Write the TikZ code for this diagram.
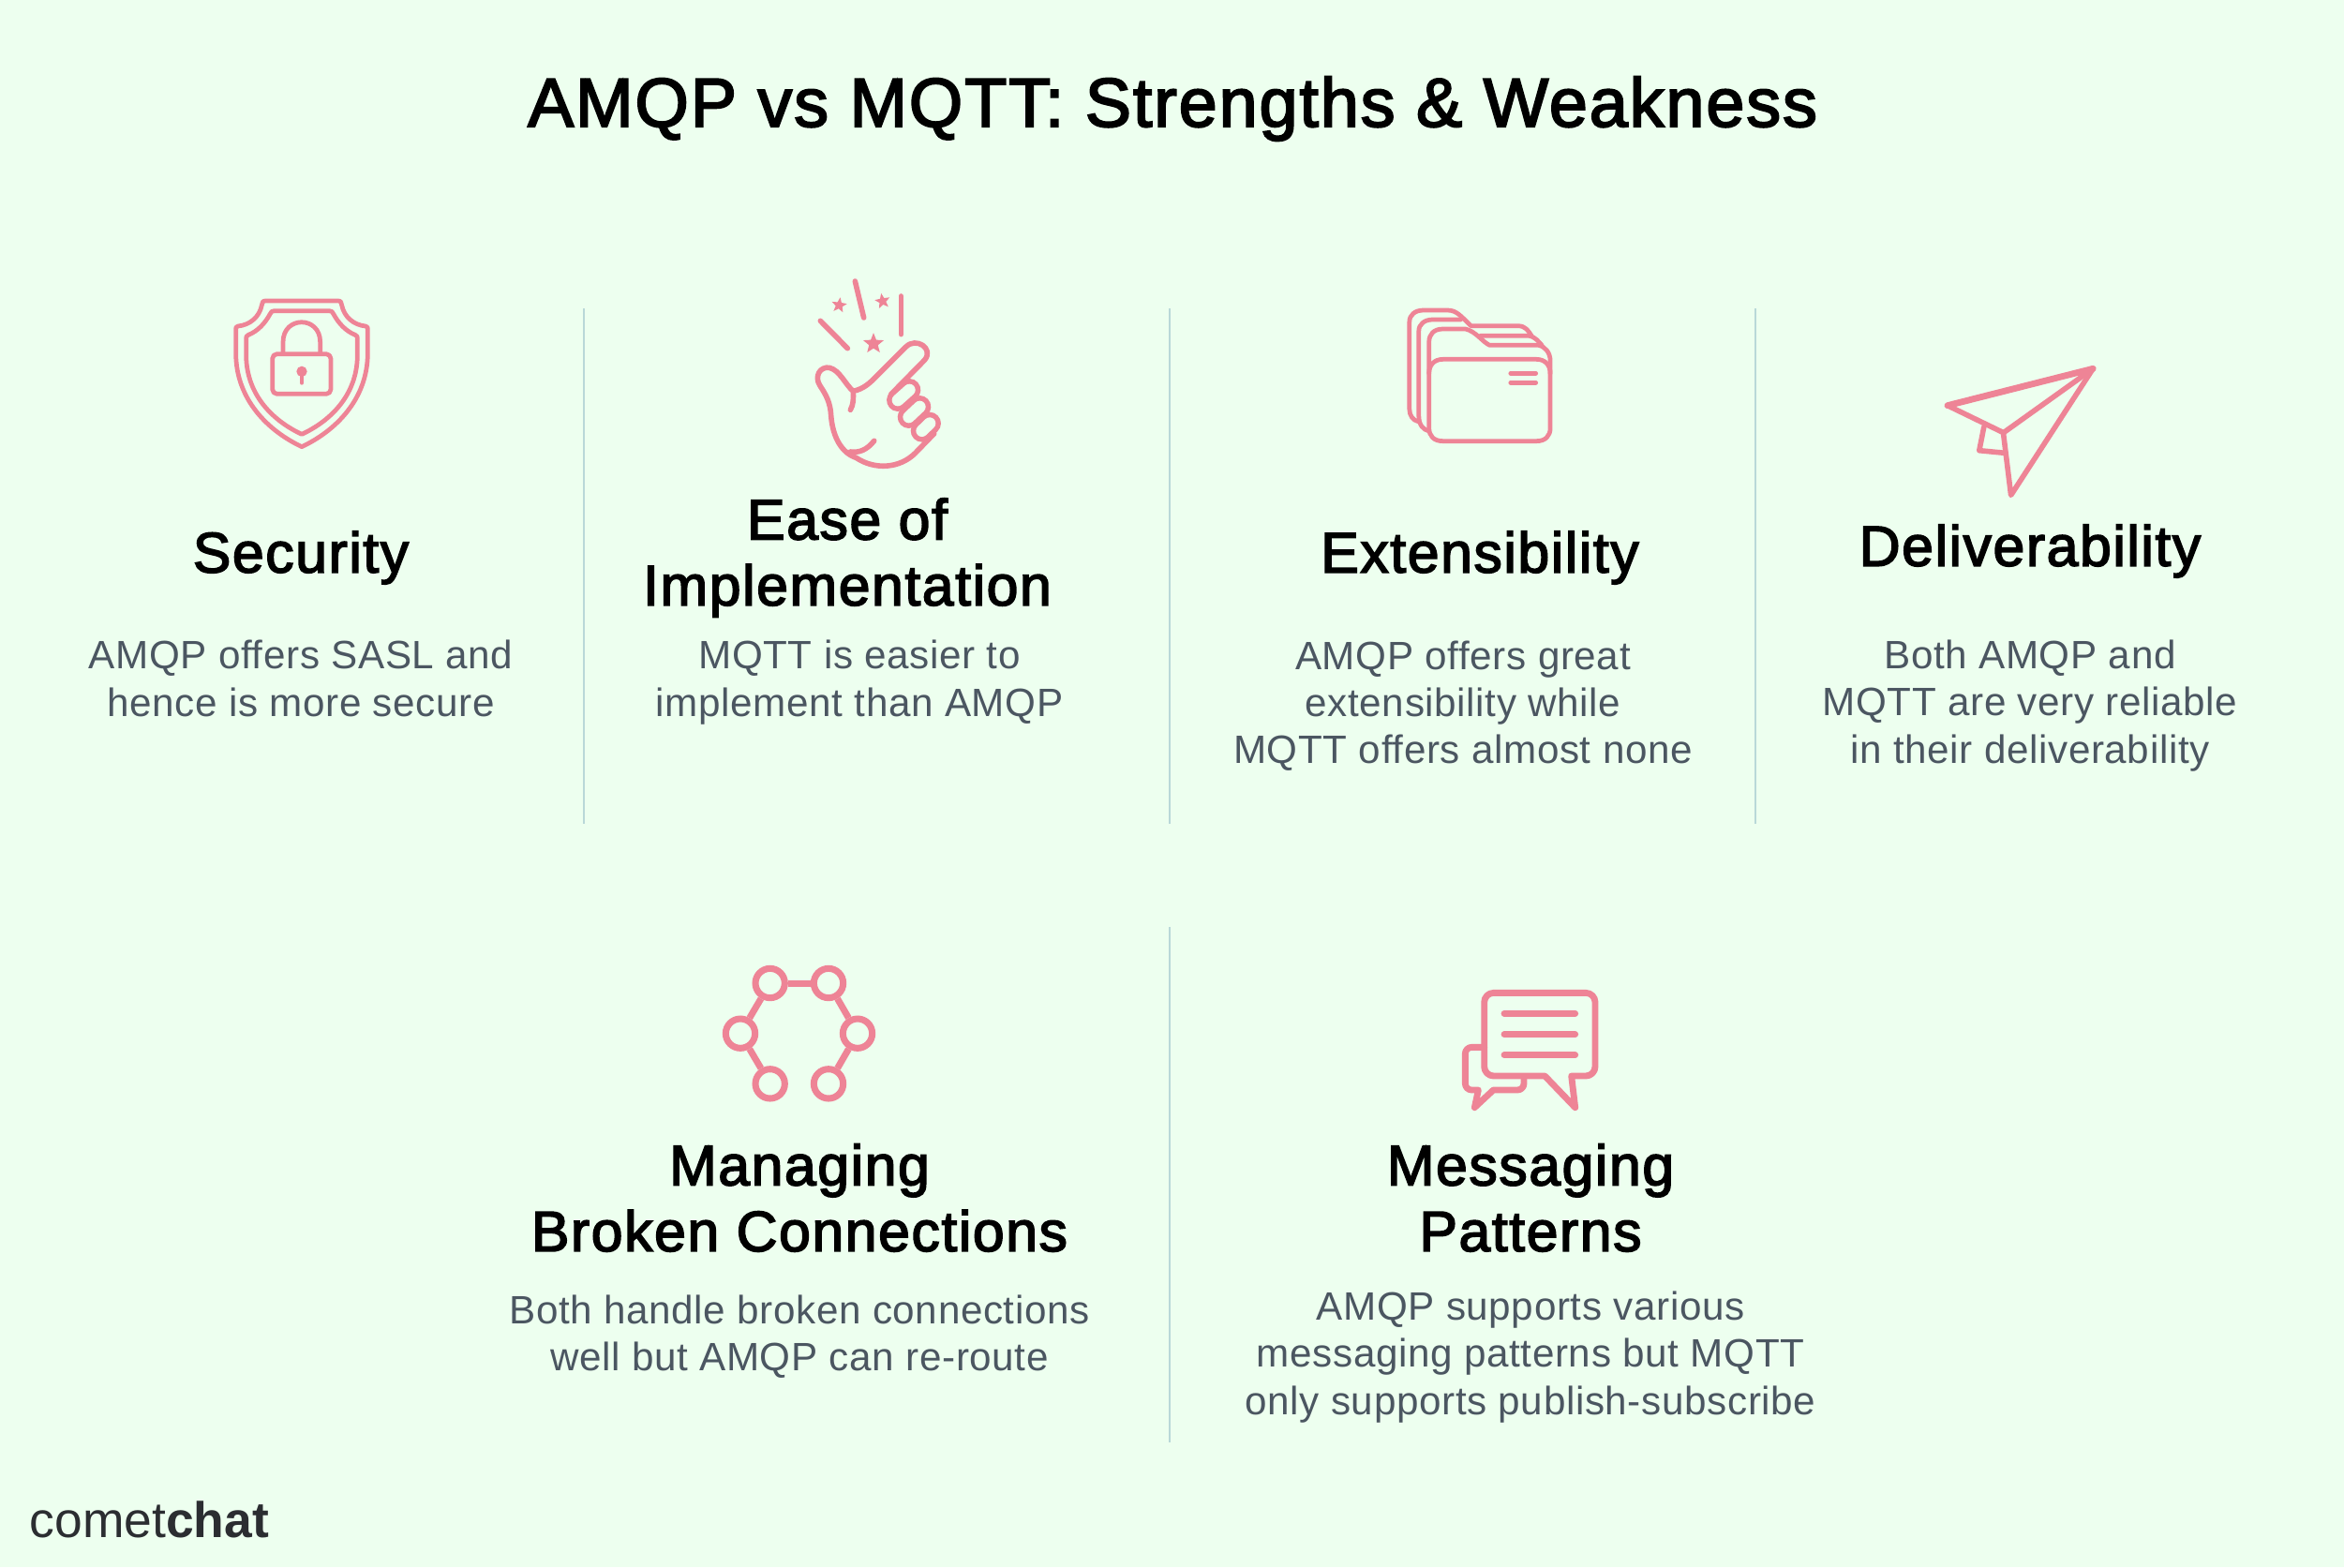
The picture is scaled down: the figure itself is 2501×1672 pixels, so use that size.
\documentclass[tikz,border=0pt]{standalone}
\usepackage{fontspec}
\setmainfont[LetterSpace=1.5]{Liberation Sans}
\newfontfamily\headfont[FakeBold=2.6, LetterSpace=2.5]{Liberation Sans}
\newfontfamily\logofont{Liberation Sans}
\usetikzlibrary{shapes.geometric}
\definecolor{mint}{HTML}{EDFFEF}
\definecolor{rose}{HTML}{EE8496}
\definecolor{rule}{HTML}{B9D8D8}
\definecolor{slate}{HTML}{4B5661}
\definecolor{coal}{HTML}{2B2D31}
\tikzset{
  x=0.01cm, y=-0.01cm,
  titletext/.style={font=\headfont\fontsize{21}{25}\selectfont, text=black, inner sep=0pt},
  headtext/.style={font=\headfont\fontsize{17.3}{20}\selectfont, text=black, align=center, inner sep=0pt},
  bodytext/.style={font=\fontsize{12}{14.3}\selectfont, text=slate, align=center, inner sep=0pt},
  divider/.style={draw=rule, line width=0.7pt},
  icon/.style={draw=rose, line width=1.6pt, line cap=round, line join=round},
  iconthin/.style={draw=rose, line width=1.35pt, line cap=round, line join=round},
  iconheavy/.style={draw=rose, line width=1.95pt, line cap=round, line join=round},
  knuckle/.style={draw=rose, line width=1.6pt, line cap=round, double=mint, double distance=3.6pt},
  spark/.style={star, star points=5, star point ratio=2.3, fill=rose, inner sep=0pt},
  hub/.style={circle, draw=rose, line width=2pt, minimum size=0.313cm, inner sep=0pt},
  link/.style={draw=rose, line width=2pt}
}
\begin{document}
\begin{tikzpicture}
  \fill[mint] (0,0) rectangle (2501,1672);
  \useasboundingbox (0,0) rectangle (2501,1672);

  % dividers
  \coordinate (ruleAtop) at (623,329);  \coordinate (ruleAbot) at (623,879);
  \coordinate (ruleBtop) at (1248,329); \coordinate (ruleBbot) at (1248,879);
  \coordinate (ruleCtop) at (1873,329); \coordinate (ruleCbot) at (1873,879);
  \coordinate (ruleDtop) at (1248,989); \coordinate (ruleDbot) at (1248,1539);
  \draw[divider] (ruleAtop) -- (ruleAbot);
  \draw[divider] (ruleBtop) -- (ruleBbot);
  \draw[divider] (ruleCtop) -- (ruleCbot);
  \draw[divider] (ruleDtop) -- (ruleDbot);

  % texts
  \node[titletext] (title) at (1251,116) {AMQP vs MQTT: Strengths \& Weakness};

  \node[headtext] (secHead) at (321,595) {Security};
  \node[bodytext] (secBody) at (321,724) {AMQP offers SASL and\\hence is more secure};

  \node[headtext] (easeHead) at (904,595) {Ease of\\Implementation};
  \node[bodytext] (easeBody) at (917,728) {MQTT is easier to\\implement than AMQP};

  \node[headtext] (extHead) at (1579,595) {Extensibility};
  \node[bodytext] (extBody) at (1561,753) {AMQP offers great\\extensibility while\\MQTT offers almost none};

  \node[headtext] (delHead) at (2166,588) {Deliverability};
  \node[bodytext] (delBody) at (2166,753) {Both AMQP and\\MQTT are very reliable\\in their deliverability};

  \node[headtext] (brokenHead) at (853,1278) {Managing\\Broken Connections};
  \node[bodytext] (brokenBody) at (853,1426) {Both handle broken connections\\well but AMQP can re-route};

  \node[headtext] (msgHead) at (1633,1278) {Messaging\\Patterns};
  \node[bodytext] (msgBody) at (1633,1448) {AMQP supports various\\messaging patterns but MQTT\\only supports publish-subscribe};

  \node[font=\logofont\fontsize{15.2}{18}\selectfont, text=coal, anchor=base west, inner sep=0pt] (logo) at (31,1640) {comet\textbf{chat}};

  % shield
  \begin{scope}[shift={(200,280)}, scale=1/3]
    \draw[iconthin] (366,123) -- (250,123) .. controls (240,123) and (240,128) .. (238,137)
      .. controls (230,175) and (200,200) .. (162,204) .. controls (155,205) and (155,208) .. (155,215)
      -- (155,290) .. controls (155,440) and (260,540) .. (366,590)
      .. controls (472,540) and (577,440) .. (577,290) -- (577,215)
      .. controls (577,208) and (577,205) .. (570,204) .. controls (532,200) and (502,175) .. (494,137)
      .. controls (492,128) and (492,123) .. (482,123) -- cycle;
    \draw[iconthin] (366,155) -- (278,155) .. controls (270,155) and (268,158) .. (264,166)
      .. controls (248,195) and (225,220) .. (195,232) .. controls (188,235) and (188,238) .. (188,245)
      -- (188,300) .. controls (190,430) and (280,510) .. (366,550)
      .. controls (452,510) and (542,430) .. (544,300) -- (544,245)
      .. controls (544,238) and (544,235) .. (537,232) .. controls (507,220) and (484,195) .. (468,166)
      .. controls (464,158) and (462,155) .. (454,155) -- cycle;
    \draw[iconthin, rounded corners=0.05cm] (272,293) rectangle (459,421);
    \draw[iconthin] (306,287) -- (306,255) .. controls (306,170) and (425,170) .. (425,255) -- (425,287);
    \fill[rose] (366,349) circle (17);
    \draw[iconthin] (366,349) -- (366,385);
  \end{scope}

  % hand
  \begin{scope}[shift={(820,280)}, scale=1/3]
    \draw[icon] (277,60) -- (305,177);
    \draw[icon] (166,187) -- (253,275);
    \draw[icon] (424,108) -- (424,230);
    \node[spark, minimum size=0.17cm, rotate=-8] (sparkA) at (226,137) {};
    \node[spark, minimum size=0.17cm, rotate=10] (sparkB) at (365,124) {};
    \node[spark, minimum size=0.23cm] (sparkC) at (336,260) {};
    \draw[icon] (262,472) .. controls (272,455) and (272,435) .. (271,412)
      .. controls (305,405) and (325,385) .. (345,365) -- (440,270)
      .. controls (472,238) and (530,275) .. (500,312) -- (392,422);
    \draw[icon] (271,412) .. controls (245,390) and (228,345) .. (195,337)
      .. controls (165,332) and (145,365) .. (165,395)
      .. controls (185,425) and (198,450) .. (200,490)
      .. controls (205,560) and (235,610) .. (280,625)
      .. controls (340,665) and (420,660) .. (470,610) -- (530,548);
    \draw[icon] (338,571) .. controls (315,600) and (290,610) .. (262,606);
    \draw[knuckle] (414,441) -- (451,408);
    \draw[knuckle] (449,495) -- (484,462);
    \draw[knuckle] (491,539) -- (516,515);
  \end{scope}

  % folders
  \begin{scope}[shift={(1470,310)}, xscale=1/2.01, yscale=1/3]
    \draw[iconthin] (88,420) .. controls (75,415) and (68,400) .. (68,380) -- (68,100)
      .. controls (68,78) and (80,63) .. (98,63) -- (150,63)
      .. controls (170,63) and (180,85) .. (200,113) -- (300,113)
      .. controls (318,113) and (323,130) .. (330,145);
    \draw[iconthin] (110,450) .. controls (97,445) and (88,430) .. (88,400) -- (88,130)
      .. controls (88,108) and (100,93) .. (118,93) -- (178,93);
    \draw[iconthin] (220,145) -- (325,145) .. controls (340,150) and (345,165) .. (352,175);
    \draw[iconthin] (110,440) -- (110,165) .. controls (110,140) and (120,123) .. (140,123) -- (188,123)
      .. controls (210,130) and (225,165) .. (240,175) -- (345,175)
      .. controls (360,180) and (370,200) .. (370,225) -- (370,440)
      .. controls (370,465) and (360,482) .. (340,482) -- (140,482)
      .. controls (120,482) and (110,465) .. (110,440) -- cycle;
    \draw[iconthin] (110,265) .. controls (110,240) and (120,220) .. (140,220) -- (340,220)
      .. controls (360,220) and (370,240) .. (370,265);
    \draw[iconthin] (285,265) -- (339,265);
    \draw[iconthin] (285,295) -- (339,295);
  \end{scope}

  % plane
  \begin{scope}[shift={(1470,310)}, xscale=1/2.01, yscale=1/3]
    \draw[icon] (1222,368) -- (1534,250) -- (1342,455) -- cycle;
    \draw[iconheavy] (1222,368) -- (1534,250);
    \draw[icon] (1534,250) -- (1358,655) -- (1342,460);
    \draw[icon] (1300,437) -- (1290,512) -- (1345,520);
  \end{scope}

  % network
  \begin{scope}[shift={(740,1010)}, scale=1/3]
    \node[hub] (hubA) at (245,117) {};
    \node[hub] (hubB) at (432,117) {};
    \node[hub] (hubC) at (525,278) {};
    \node[hub] (hubD) at (432,439) {};
    \node[hub] (hubE) at (245,439) {};
    \node[hub] (hubF) at (150,278) {};
    \draw[link] (hubA) -- (hubB);
    \draw[link] (hubB) -- (hubC);
    \draw[link] (hubC) -- (hubD);
    \draw[link] (hubA) -- (hubF);
    \draw[link] (hubF) -- (hubE);
  \end{scope}

  % chat bubbles
  \begin{scope}[shift={(1530,1040)}, scale=1/3]
    \draw[iconheavy] [rounded corners=0.1cm] (161,200) -- (161,58) -- (516,58) -- (516,324)
      [sharp corners] -- (440,324) -- (452,425) -- (355,324)
      [rounded corners=0.1cm] -- (161,324) -- cycle;
    \draw[iconheavy] [rounded corners=0.07cm] (161,232) -- (100,232) -- (100,369)
      [sharp corners] -- (142,369) -- (130,425) -- (190,369)
      [rounded corners=0.07cm] -- (288,369) -- (288,332);
    \draw[iconheavy] (225,124) -- (452,124);
    \draw[iconheavy] (225,191) -- (452,191);
    \draw[iconheavy] (225,257) -- (452,257);
  \end{scope}
\end{tikzpicture}
\end{document}
